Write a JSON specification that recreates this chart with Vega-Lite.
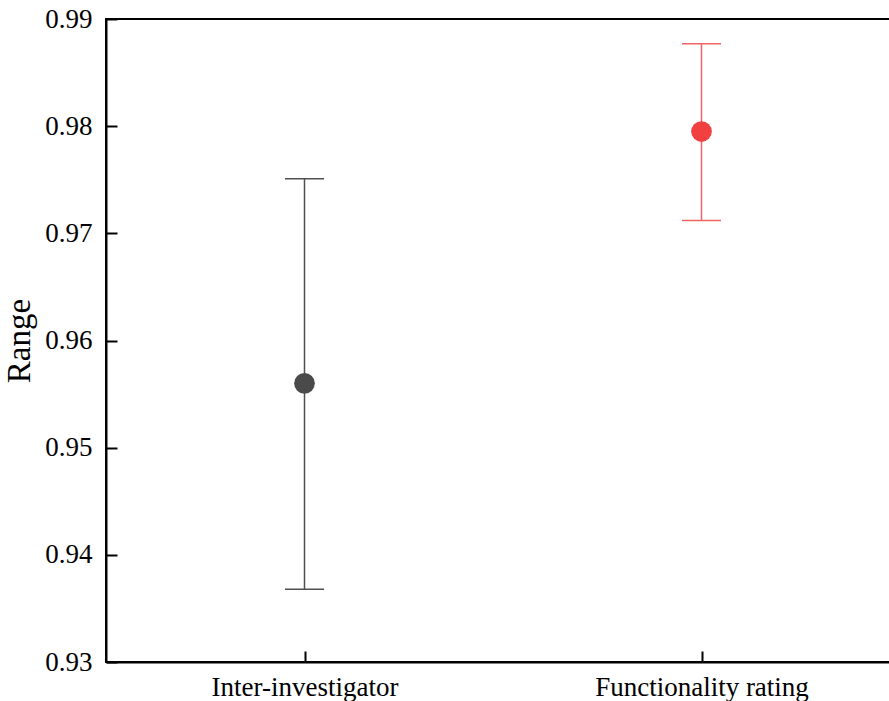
{
  "$schema": "https://vega.github.io/schema/vega-lite/v6.json",
  "autosize": "none",
  "padding": {"left": 106, "top": 19, "right": 0, "bottom": 39},
  "width": 794,
  "height": 643,
  "background": "white",
  "config": {
    "view": {"stroke": "black", "strokeWidth": 2},
    "font": "Liberation Serif",
    "axis": {
      "domainColor": "black",
      "domainWidth": 2,
      "tickColor": "black",
      "tickWidth": 2,
      "tickSize": -11,
      "grid": false,
      "labelFont": "Liberation Serif",
      "labelFontSize": 27,
      "labelColor": "black",
      "labelLimit": 0,
      "titleFont": "Liberation Serif",
      "titleFontWeight": "normal",
      "titleColor": "black"
    }
  },
  "data": {
    "values": [
      {"group": "Inter-investigator", "mean": 0.956, "lo": 0.9368, "hi": 0.9751},
      {"group": "Functionality rating", "mean": 0.9795, "lo": 0.9712, "hi": 0.9877}
    ]
  },
  "encoding": {
    "x": {
      "field": "group",
      "type": "nominal",
      "sort": ["Inter-investigator", "Functionality rating"],
      "scale": {"type": "point", "padding": 0.5},
      "axis": {"title": null, "labelAngle": 0, "labelPadding": 23, "labelLimit": 0}
    },
    "color": {
      "field": "group",
      "type": "nominal",
      "scale": {"domain": ["Inter-investigator", "Functionality rating"], "range": ["#505050", "#f06464"]},
      "legend": null
    }
  },
  "layer": [
    {
      "mark": {"type": "rule", "strokeWidth": 1.5},
      "encoding": {
        "y": {
          "field": "lo",
          "type": "quantitative",
          "scale": {"domain": [0.93, 0.99], "nice": false, "zero": false},
          "axis": {
            "title": "Range",
            "titleFontSize": 33,
            "titlePadding": 8,
            "values": [0.93, 0.94, 0.95, 0.96, 0.97, 0.98, 0.99],
            "format": ".2f",
            "labelPadding": 25
          }
        },
        "y2": {"field": "hi"}
      }
    },
    {
      "mark": {"type": "tick", "size": 39, "thickness": 1.5, "opacity": 1},
      "encoding": {"y": {"field": "lo", "type": "quantitative"}}
    },
    {
      "mark": {"type": "tick", "size": 39, "thickness": 1.5, "opacity": 1},
      "encoding": {"y": {"field": "hi", "type": "quantitative"}}
    },
    {
      "mark": {"type": "circle", "size": 430, "opacity": 1},
      "encoding": {
        "y": {"field": "mean", "type": "quantitative"},
        "color": {
          "field": "group",
          "type": "nominal",
          "scale": {"domain": ["Inter-investigator", "Functionality rating"], "range": ["#4a4a4a", "#f04040"]},
          "legend": null
        }
      }
    }
  ],
  "resolve": {"scale": {"color": "independent"}}
}
